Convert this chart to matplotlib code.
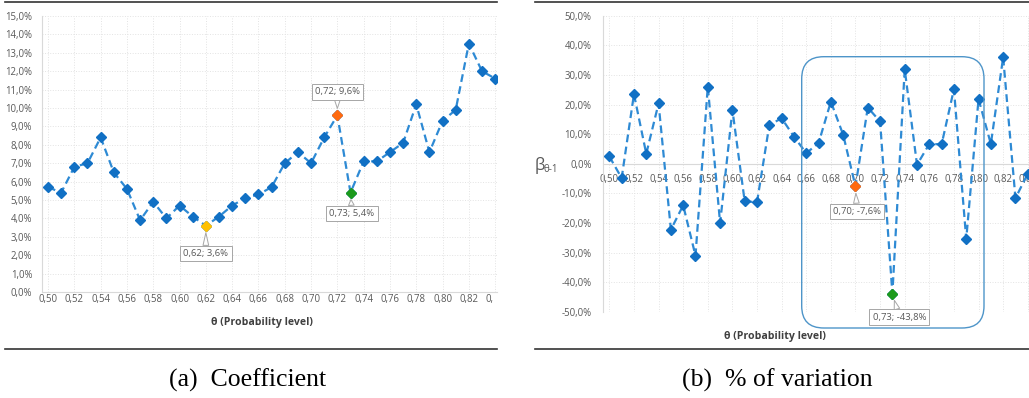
import matplotlib
matplotlib.use('Agg')
import matplotlib.pyplot as plt
from matplotlib.ticker import FixedLocator, FuncFormatter
from matplotlib.lines import Line2D
from matplotlib.patches import FancyBboxPatch
from matplotlib.transforms import Bbox, TransformedBbox

plt.rcParams['font.family'] = ['Open Sans', 'DejaVu Sans']

# probability levels
theta = [0.50, 0.51, 0.52, 0.53, 0.54, 0.55, 0.56, 0.57, 0.58, 0.59,
         0.60, 0.61, 0.62, 0.63, 0.64, 0.65, 0.66, 0.67, 0.68, 0.69,
         0.70, 0.71, 0.72, 0.73, 0.74, 0.75, 0.76, 0.77, 0.78, 0.79,
         0.80, 0.81, 0.82, 0.83, 0.84]
# (a) coefficient, in %
coef = [5.7, 5.4, 6.8, 7.0, 8.4, 6.5, 5.6, 3.9, 4.9, 4.0,
        4.7, 4.1, 3.6, 4.1, 4.7, 5.1, 5.3, 5.7, 7.0, 7.6,
        7.0, 8.4, 9.6, 5.4, 7.1, 7.1, 7.6, 8.1, 10.2, 7.6,
        9.3, 9.9, 13.5, 12.0, 11.6]
# (b) % of variation
pct = [2.5, -4.8, 23.5, 3.4, 20.4, -22.2, -14.0, -31.0, 26.1, -20.0,
       18.2, -12.7, -12.9, 13.1, 15.4, 9.2, 3.6, 7.0, 21.0, 9.8,
       -7.6, 19.0, 14.3, -43.8, 31.9, -0.3, 6.7, 6.6, 25.2, -25.4,
       21.9, 6.7, 36.0, -11.6, -3.3]

# highlighted points: theta value -> colour
hl_coef = {0.62: '#FFC000', 0.72: '#FF6A10', 0.73: '#1C9A1C'}
hl_pct = {0.70: '#FF6A10', 0.73: '#1C9A1C'}

W, H = 1029, 398
fig = plt.figure(figsize=(W / 100, H / 100), dpi=100)

blue_line = '#2E8AD4'
blue_mark = '#1170C4'
grey = '#D9D9D9'
txt = '#595959'


def comma(s):
    return s.replace('.', ',')


def style(ax):
    ax.grid(True, color='#E3E3E3', ls=':', lw=0.7)
    ax.set_axisbelow(True)
    for s in ['top', 'right']:
        ax.spines[s].set_visible(False)
    ax.spines['left'].set_color(grey)
    ax.spines['bottom'].set_color(grey)
    ax.tick_params(length=0, labelsize=6.9, colors=txt)
    ax.xaxis.set_major_locator(FixedLocator(theta[::2]))
    ax.xaxis.set_major_formatter(FuncFormatter(lambda v, p: comma(f'{v:.2f}')))
    ax.yaxis.set_major_formatter(FuncFormatter(lambda v, p: comma(f'{v:.1f}%')))


def draw(ax, vals, hl, offsets):
    ax.plot(theta, vals, ls=(0, (3.5, 2)), lw=1.6, color=blue_line,
            marker='D', ms=5.2, mfc=blue_mark, mec=blue_mark, zorder=3)
    for t, c in hl.items():
        i = theta.index(t)
        ax.plot(theta[i], vals[i], ls='none', marker='D', ms=5.2,
                mfc=c, mec=c, zorder=4)
        lab = comma(f'{theta[i]:.2f}; {vals[i]:.1f}%')
        ax.annotate(lab, (theta[i], vals[i]), xytext=offsets[t],
                    textcoords='offset points', ha='center', va='center',
                    fontsize=6.8, color=txt, zorder=5,
                    bbox=dict(boxstyle='square,pad=0.35', fc='white',
                              ec='#A6A6A6', lw=0.7),
                    arrowprops=dict(arrowstyle='wedge,tail_width=0.6',
                                    fc='white', ec='#A6A6A6', lw=0.7,
                                    shrinkA=0, shrinkB=5))


# (a) Coefficient
ax1 = fig.add_axes([42 / W, 1 - 292 / H, 455 / W, 276 / H])
style(ax1)
draw(ax1, coef, hl_coef, {0.62: (0, -20), 0.72: (0, 17), 0.73: (1, -15)})
ax1.set_xlim(0.4954, 0.8414)
ax1.set_ylim(0, 15)
ax1.yaxis.set_major_locator(FixedLocator(range(0, 16)))
ax1.tick_params(axis='x', pad=1.5)
ax1.tick_params(axis='y', pad=7)
# the source panel is cropped at its right edge
clip = TransformedBbox(Bbox([[0, 0], [493 / W, 1]]), fig.transFigure)
for lab in ax1.get_xticklabels():
    lab.set_clip_box(clip)
    lab.set_clip_on(True)
fig.text(262 / W, 1 - 323 / H, 'θ (Probability level)', ha='center',
         va='center', fontsize=7.6, fontweight='bold', color='#404040')

# (b) % of variation
ax2 = fig.add_axes([602.7 / W, 1 - 312 / H, (W - 602.7) / W, 296.3 / H])
style(ax2)
draw(ax2, pct, hl_pct, {0.70: (1, -18), 0.73: (5, -17)})
ax2.set_xlim(0.4946, 0.8410)
ax2.set_ylim(-50, 50)
ax2.yaxis.set_major_locator(FixedLocator(range(-50, 51, 10)))
ax2.spines['bottom'].set_position(('data', 0))
ax2.tick_params(axis='x', pad=7)
ax2.tick_params(axis='y', pad=8)
fig.text(775 / W, 1 - 337 / H, 'θ (Probability level)', ha='center',
         va='center', fontsize=7.6, fontweight='bold', color='#404040')
fig.text(535 / W, 1 - 166 / H, 'β', ha='left', va='center',
         fontsize=12, color='#595959')
fig.text(544 / W, 1 - 170 / H, 'θ-1', ha='left', va='center',
         fontsize=7, color='#595959')

# highlight frame on (b)
frame = FancyBboxPatch((801.7 / 100, (H - 328) / 100), 182.3 / 100, 271.3 / 100,
                       boxstyle='round,pad=0,rounding_size=0.22',
                       transform=fig.dpi_scale_trans, fc='none',
                       ec='#4E95C9', lw=1.0, zorder=6)
fig.add_artist(frame)

# rules and captions
for x0, x1 in [(5, 497), (535, 1029)]:
    fig.add_artist(Line2D([x0 / W, x1 / W], [1 - 2 / H, 1 - 2 / H],
                          color='#333333', lw=1.2, transform=fig.transFigure))
    fig.add_artist(Line2D([x0 / W, x1 / W], [1 - 348.5 / H, 1 - 348.5 / H],
                          color='#333333', lw=1.2, transform=fig.transFigure))
fig.text(248 / W, 1 - 380 / H, '(a)  Coefficient', ha='center', va='center',
         fontsize=18.5, family='Liberation Serif')
fig.text(777 / W, 1 - 380 / H, '(b)  % of variation', ha='center', va='center',
         fontsize=18.5, family='Liberation Serif')

fig.savefig('out.png', dpi=100)
